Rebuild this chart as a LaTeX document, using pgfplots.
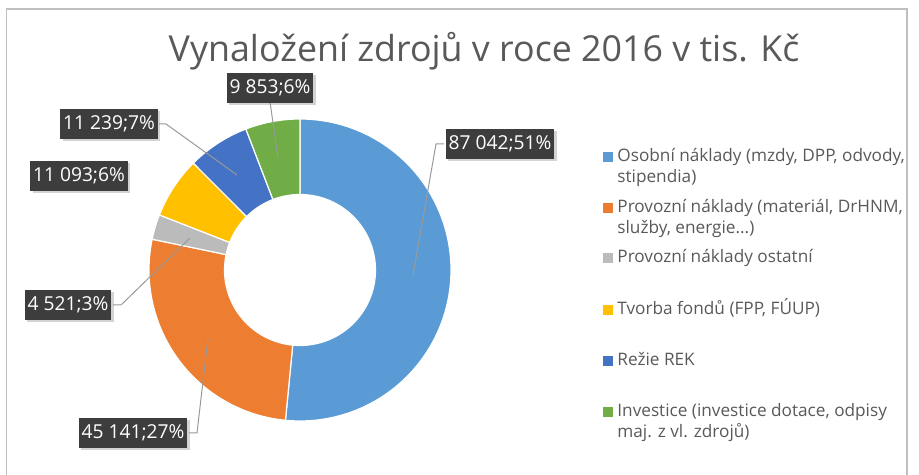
\documentclass[border=0pt]{standalone}
\usepackage{fontspec}
\setmainfont{Open Sans}
\usepackage{pgfplots}
\pgfplotsset{compat=1.18}
\usepgfplotslibrary{fillbetween}
\usetikzlibrary{shadows}

\definecolor{cA}{HTML}{5B9BD5}
\definecolor{cB}{HTML}{ED7D31}
\definecolor{cC}{HTML}{BBBBBB}
\definecolor{cD}{HTML}{FFC000}
\definecolor{cE}{HTML}{4472C4}
\definecolor{cF}{HTML}{70AD47}
\definecolor{txt}{HTML}{595959}
\definecolor{frame}{HTML}{BFBFBF}

% values (tis. Kc)
\def\vA{87042}\def\vB{45141}\def\vC{4521}\def\vD{11093}\def\vE{11239}\def\vF{9853}

\pgfkeys{/pgf/fpu=true,/pgf/fpu/output format=fixed}
\pgfmathsetmacro\tot{\vA+\vB+\vC+\vD+\vE+\vF}
\pgfmathsetmacro\tA{90}
\pgfmathsetmacro\tB{\tA-360*\vA/\tot}
\pgfmathsetmacro\tC{\tB-360*\vB/\tot}
\pgfmathsetmacro\tD{\tC-360*\vC/\tot}
\pgfmathsetmacro\tE{\tD-360*\vD/\tot}
\pgfmathsetmacro\tF{\tE-360*\vE/\tot}
\pgfmathsetmacro\tG{\tF-360*\vF/\tot}
\pgfkeys{/pgf/fpu=false}

% ring sector: name, from, to, colour
\newcommand\slice[4]{%
  \addplot[draw=none, name path=#1o, domain=#2:#3, samples=90] ({300+151*cos(x)},{205+151*sin(x)});
  \addplot[draw=none, name path=#1i, domain=#2:#3, samples=90] ({300+75.5*cos(x)},{205+75.5*sin(x)});
  \addplot[fill=#4, draw=white, line width=0.6pt] fill between[of=#1o and #1i];
}

\begin{document}
\begin{tikzpicture}[
  lbl/.style={fill=black!76, text=white, font=\fontsize{9.6}{11}\selectfont,
    inner xsep=1.4pt, inner ysep=0pt, minimum height=15pt,
    drop shadow={opacity=0.35, shadow xshift=1.2pt, shadow yshift=-1.2pt}},
  lead/.style={draw=black!40, line width=0.5pt},
  leg/.style={text=txt, font=\fontsize{8.6}{10}\selectfont, anchor=base west, inner sep=0pt},
]
\begin{axis}[
  width=459.5pt, height=237.5pt, scale only axis,
  xmin=0, xmax=919, ymin=0, ymax=475,
  enlargelimits=false, hide axis, clip=false,
]
\slice{a}{\tB}{\tA}{cA}
\slice{b}{\tC}{\tB}{cB}
\slice{c}{\tD}{\tC}{cC}
\slice{d}{\tE}{\tD}{cD}
\slice{e}{\tF}{\tE}{cE}
\slice{f}{\tG}{\tF}{cF}

% chart frame
\draw[frame, line width=0.8pt] (axis cs:6.5,-5) -- (axis cs:6.5,466) -- (axis cs:907,466) -- (axis cs:907,-5);

% title
\node[text=txt, font=\fontsize{17.9}{22}\selectfont] at (axis cs:484,424) {Vynaložení zdrojů v roce 2016 v tis. Kč};

% leader lines
\draw[lead] (axis cs:444,331) -- (axis cs:436,331) -- (axis cs:413,200);
\draw[lead] (axis cs:189,42) -- (axis cs:197,42) -- (axis cs:208,137);
\draw[lead] (axis cs:113,170) -- (axis cs:121,170) -- (axis cs:190,237);
\draw[lead] (axis cs:159,351) -- (axis cs:166,351) -- (axis cs:237,300);
\draw[lead] (axis cs:270,373) -- (axis cs:278,317);

% data labels
\node[lbl] at (axis cs:500,331) {87 042;51\%};
\node[lbl] at (axis cs:133,42) {45 141;27\%};
\node[lbl] at (axis cs:68,170) {4 521;3\%};
\node[lbl] at (axis cs:79,299) {11 093;6\%};
\node[lbl] at (axis cs:109,351) {11 239;7\%};
\node[lbl] at (axis cs:270,387) {9 853;6\%};

% legend
\fill[cA] (axis cs:603,313) rectangle (axis cs:613,323);
\node[leg] at (axis cs:617,313) {Osobní náklady (mzdy, DPP, odvody,};
\node[leg] at (axis cs:617,292) {stipendia)};
\fill[cB] (axis cs:603,262) rectangle (axis cs:613,272);
\node[leg] at (axis cs:617,262) {Provozní náklady (materiál, DrHNM,};
\node[leg] at (axis cs:617,241) {služby, energie...)};
\fill[cC] (axis cs:603,212) rectangle (axis cs:613,222);
\node[leg] at (axis cs:617,212) {Provozní náklady ostatní};
\fill[cD] (axis cs:603,160) rectangle (axis cs:613,170);
\node[leg] at (axis cs:617,160) {Tvorba fondů (FPP, FÚUP)};
\fill[cE] (axis cs:603,109) rectangle (axis cs:613,119);
\node[leg] at (axis cs:617,109) {Režie REK};
\fill[cF] (axis cs:603,58) rectangle (axis cs:613,68);
\node[leg] at (axis cs:617,58) {Investice (investice dotace, odpisy};
\node[leg] at (axis cs:617,37) {maj. z vl. zdrojů)};
\end{axis}
\pgfresetboundingbox
\path[use as bounding box] (current axis.south west) rectangle (current axis.north east);
\end{tikzpicture}
\end{document}
